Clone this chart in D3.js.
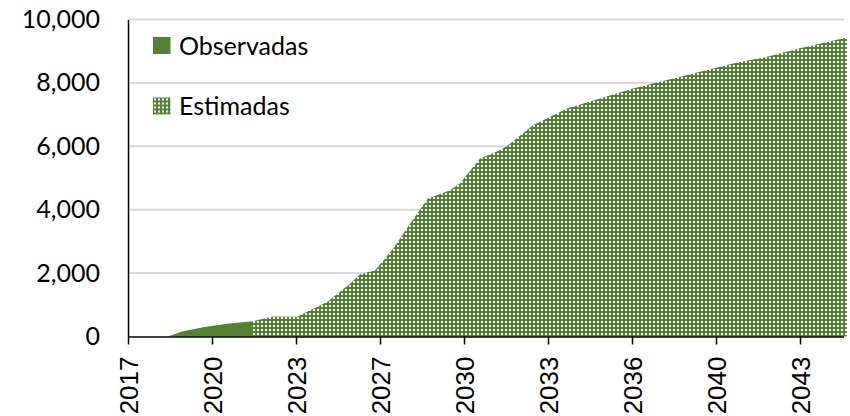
<!DOCTYPE html>
<html>
<head>
<meta charset="utf-8">
<script src="https://cdn.jsdelivr.net/npm/d3@7"></script>
<style>
  body { margin: 0; background: #fff; }
  svg { display: block; }
</style>
</head>
<body>
<script>
// observed series (year, value)
var obsYears  = [2018.59, 2019.14, 2019.98, 2020.93, 2021.96];
var obsValues = [0, 160, 295, 400, 485];

// estimated series (year, value)
var estYears  = [2021.96, 2022.36, 2022.75, 2023.71, 2023.94, 2024.90, 2025.81, 2026.21, 2026.80,
                 2027.52, 2028.19, 2028.90, 2029.78, 2030.17, 2030.97, 2031.76, 2032.08, 2033.07,
                 2034.42, 2035.73, 2037.04, 2038.39, 2039.70, 2041.01, 2042.36, 2043.67, 2045.53];
var estValues = [485, 560, 630, 620, 715, 1085, 1665, 1960, 2085,
                 2770, 3560, 4350, 4610, 4825, 5615, 5875, 6035, 6665,
                 7195, 7510, 7825, 8090, 8350, 8615, 8825, 9090, 9435];

var xTickLabels = ["2017", "2020", "2023", "2027", "2030", "2033", "2036", "2040", "2043"];
var yTicks = [0, 2000, 4000, 6000, 8000, 10000];
var seriesNames = ["Observadas", "Estimadas"];

var width = 850, height = 416;
var green = "#548235";

var plot = {left: 128, right: 846, top: 19.5, bottom: 336.5};
var tickStep = 10 / 3;
var x = d3.scaleLinear()
    .domain([2017, 2017 + (plot.right - plot.left) / 84 * tickStep])
    .range([plot.left, plot.right]);
var y = d3.scaleLinear().domain([0, 10000]).range([plot.bottom, plot.top]);

var svg = d3.select("body").append("svg")
    .attr("width", width)
    .attr("height", height);

var defs = svg.append("defs");
var pat = defs.append("pattern")
    .attr("id", "dots")
    .attr("patternUnits", "userSpaceOnUse")
    .attr("width", 4)
    .attr("height", 4);
pat.append("rect").attr("width", 4).attr("height", 4).attr("fill", green);
pat.append("rect").attr("x", 1).attr("y", 1).attr("width", 2).attr("height", 2).attr("fill", "#fff");

// gridlines
svg.append("g")
    .selectAll("line")
    .data(yTicks.filter(function(d){ return d > 0; }))
    .enter().append("line")
    .attr("x1", plot.left).attr("x2", plot.right - 2)
    .attr("y1", function(d){ return y(d); })
    .attr("y2", function(d){ return y(d); })
    .attr("stroke", "#d9d9d9")
    .attr("stroke-width", 2);

var area = d3.area()
    .x(function(d){ return x(d[0]); })
    .y0(y(0))
    .y1(function(d){ return y(d[1]); });

var obs = obsYears.map(function(d, i){ return [d, obsValues[i]]; });
var est = estYears.map(function(d, i){ return [d, estValues[i]]; });

svg.append("path")
    .attr("d", area(obs))
    .attr("fill", green);

svg.append("path")
    .attr("d", area(est))
    .attr("fill", "url(#dots)");

// y axis
var yAxis = d3.axisLeft(y)
    .tickValues(yTicks)
    .tickSize(0)
    .tickPadding(28)
    .tickFormat(d3.format(","));
var gy = svg.append("g")
    .attr("transform", "translate(" + plot.left + ",0)")
    .call(yAxis);
gy.select(".domain").attr("stroke", "#000").attr("stroke-width", 1.5);
gy.selectAll("text")
    .attr("font-family", "Lato, 'Open Sans', sans-serif")
    .attr("font-size", 25)
    .attr("fill", "#000");

// x axis
var xAxis = d3.axisBottom(x)
    .tickValues(xTickLabels.map(function(d, i){ return 2017 + i * tickStep; }))
    .tickSize(8)
    .tickSizeOuter(0)
    .tickFormat(function(d, i){ return xTickLabels[i]; });
var gx = svg.append("g")
    .attr("transform", "translate(0," + plot.bottom + ")")
    .call(xAxis);
gx.select(".domain").attr("stroke", "#000").attr("stroke-width", 1.5)
    .attr("d", "M" + plot.left + ",0.5H" + (plot.right - 2));
gx.selectAll(".tick line").attr("stroke", "#000").attr("stroke-width", 1.5);
gx.selectAll("text")
    .attr("font-family", "'Liberation Sans', Arial, sans-serif")
    .attr("font-size", 26)
    .attr("fill", "#000")
    .attr("transform", "rotate(-90)")
    .attr("text-anchor", "end")
    .attr("dy", "0.35em")
    .attr("x", -20)
    .attr("y", 0);

// legend
var legend = svg.append("g");
var items = legend.selectAll("g")
    .data(seriesNames)
    .enter().append("g")
    .attr("transform", function(d, i){ return "translate(153," + (37 + i * 60.5) + ")"; });
items.append("rect")
    .attr("width", 17.5).attr("height", 17)
    .attr("fill", function(d, i){ return i === 0 ? green : "url(#dots)"; });
items.append("text")
    .attr("x", 26)
    .attr("y", 17.5)
    .attr("font-family", "Lato, 'Open Sans', sans-serif")
    .attr("font-size", 25)
    .attr("fill", "#000")
    .text(function(d){ return d; });
</script>
</body>
</html>
